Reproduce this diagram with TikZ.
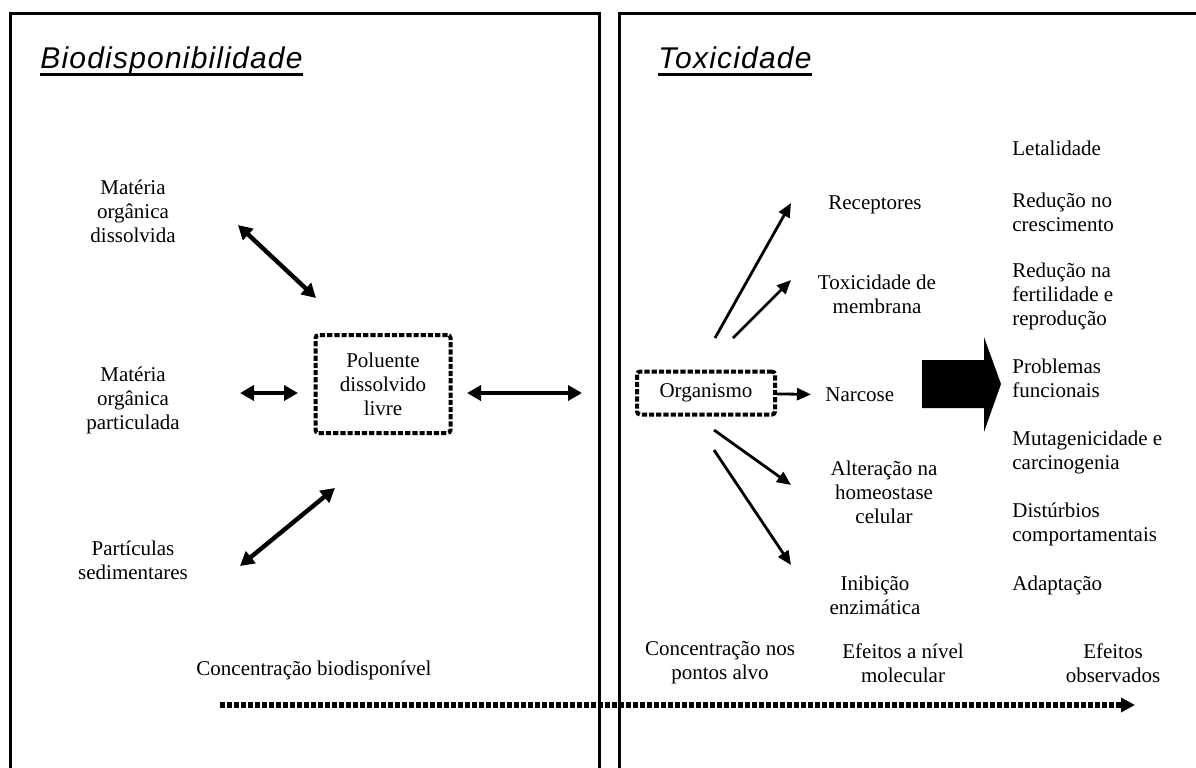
\documentclass[tikz,border=0pt]{standalone}
\usepackage{fontspec}
\setmainfont{Liberation Serif}
\newfontfamily\titlefont[LetterSpace=4]{Liberation Sans}
\usetikzlibrary{arrows.meta}

\begin{document}
\begin{tikzpicture}[x=0.5pt, y=-0.5pt, font=\fontsize{10.5}{12}\selectfont,
      txt/.style={align=center, inner sep=1pt},
      eff/.style={align=left, anchor=west, inner sep=0pt},
      ttl/.style={font=\titlefont\itshape\fontsize{15}{17}\selectfont, anchor=base west, inner sep=0pt},
      dotbox/.style={draw, line width=2pt, dash pattern=on 2.6pt off 1pt, rounded corners=1.5pt, align=center},
      dbl/.style={{Triangle[length=7pt, width=7.5pt]}-{Triangle[length=7pt, width=7.5pt]}, line width=2.2pt},
      arr/.style={-{Triangle[length=7pt, width=6pt]}, line width=1.4pt},
      panel/.style={line width=1.5pt}]
    \useasboundingbox (0,0) rectangle (1196,767);
    % two panels
    \draw[panel] (10,780) |- (599,13) -- (599,780);
    \draw[panel] (619,780) |- (1210,13);
    \node[ttl] (tb) at (40,68) {Biodisponibilidade};
    \node[ttl] (tt) at (658,68) {Toxicidade};
    \draw[line width=1.5pt] ([yshift=-3pt]tb.base west) -- ([yshift=-3pt]tb.base east);
    \draw[line width=1.5pt] ([yshift=-3pt]tt.base west) -- ([yshift=-3pt]tt.base east);

    % biodisponibilidade
    \node[txt] (mod) at (133,211) {Matéria\\orgânica\\dissolvida};
    \node[txt] (mop) at (133,400) {Matéria\\orgânica\\particulada};
    \node[txt] (sed) at (133,560) {Partículas\\sedimentares};
    \node[dotbox, minimum width=67.5pt, minimum height=49pt] (pol) at (383,384) {Poluente\\dissolvido\\livre};
    \coordinate (mod-a) at (238,225); \coordinate (mod-b) at (316,298);
    \coordinate (mop-a) at (240,393); \coordinate (mop-b) at (298,393);
    \coordinate (sed-a) at (240,566); \coordinate (sed-b) at (335,488);
    \coordinate (pol-a) at (467,393); \coordinate (pol-b) at (582,393);
    \draw[dbl] (mod-a) -- (mod-b);
    \draw[dbl] (mop-a) -- (mop-b);
    \draw[dbl] (sed-a) -- (sed-b);
    \draw[dbl] (pol-a) -- (pol-b);

    % toxicidade
    \node[dotbox, minimum width=69pt, minimum height=21.5pt] (org) at (706,393) {Organismo};
    \node[txt] (rec) at (875,205) {Receptores};
    \node[txt] (tox) at (877,294) {Toxicidade de\\membrana};
    \node[txt, anchor=west] (nar) at (823,395) {Narcose};
    \node[txt] (hom) at (884,492) {Alteração na\\homeostase\\celular};
    \node[txt] (ini) at (875,595) {Inibição\\enzimática};
    \coordinate (rec-a) at (715,338); \coordinate (rec-b) at (791,203);
    \coordinate (tox-a) at (733,338); \coordinate (tox-b) at (791,280);
    \coordinate (hom-a) at (714,430); \coordinate (hom-b) at (791,485);
    \coordinate (ini-a) at (714,450); \coordinate (ini-b) at (791,565);
    \draw[arr] (rec-a) -- (rec-b);
    \draw[arr] (tox-a) -- (tox-b);
    \draw[arr, shorten >=6pt] (org) -- (nar);
    \draw[arr] (hom-a) -- (hom-b);
    \draw[arr] (ini-a) -- (ini-b);
    \fill (922,360) -- (984,360) -- (984,337) -- (1001,384) -- (984,432) -- (984,408) -- (922,408) -- cycle;

    \node[eff] (e1) at (1012,148) {Letalidade};
    \node[eff] (e2) at (1012,212) {Redução no\\crescimento};
    \node[eff] (e3) at (1012,296) {Redução na\\fertilidade e\\reprodução};
    \node[eff] (e4) at (1012,378) {Problemas\\funcionais};
    \node[eff] (e5) at (1012,452) {Mutagenicidade e\\carcinogenia};
    \node[eff] (e6) at (1012,524) {Distúrbios\\comportamentais};
    \node[eff] (e7) at (1012,585) {Adaptação};

    % eixo inferior
    \node[txt] (cbd) at (314,670) {Concentração biodisponível};
    \node[txt] (cpa) at (720,663) {Concentração nos\\pontos alvo};
    \node[txt] (enm) at (903,663) {Efeitos a nível\\molecular};
    \node[txt] (eob) at (1113,663) {Efeitos\\observados};
    \coordinate (ax-a) at (220,705); \coordinate (ax-b) at (1135,705);
    \draw[-{Triangle[length=7pt, width=7pt]}, line width=3pt, dash pattern=on 2.5pt off 1pt] (ax-a) -- (ax-b);
  \end{tikzpicture}
\end{document}
